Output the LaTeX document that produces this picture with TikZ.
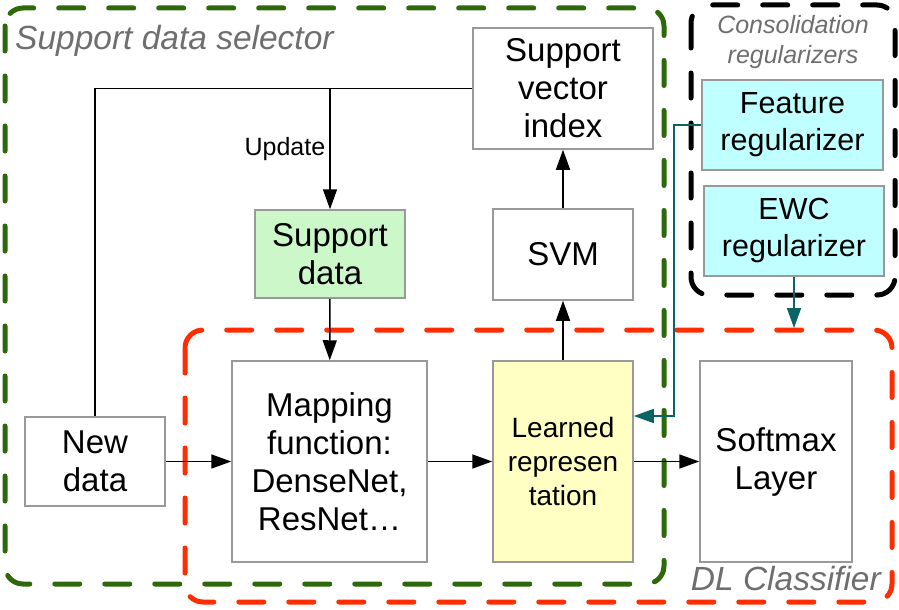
\documentclass[tikz,border=0pt]{standalone}
\usepackage{fontspec}
\setmainfont{Liberation Sans}
\usetikzlibrary{arrows.meta, positioning}
\definecolor{selgreen}{RGB}{45,104,10}
\definecolor{clsred}{RGB}{255,45,0}
\definecolor{fbteal}{RGB}{10,100,100}
\definecolor{boxgray}{RGB}{153,153,153}
\definecolor{labelgray}{RGB}{110,110,110}
\definecolor{sdgreen}{RGB}{204,247,200}
\definecolor{lryellow}{RGB}{255,255,196}
\definecolor{regcyan}{RGB}{192,255,255}

\tikzset{
  blk/.style={draw=boxgray, line width=1.5pt, align=center, inner sep=0pt,
    font=\fontsize{33}{38}\selectfont},
  conn/.style={line width=1.5pt, ->},
  fb/.style={line width=1.5pt, draw=fbteal, ->, >={Triangle[length=20pt,width=14pt,fill=fbteal]}},
  grp/.style={line width=5pt, dash pattern=on 25pt off 25pt, line cap=round, rounded corners=18pt},
  grplabel/.style={text=labelgray, inner sep=0pt, font=\fontsize{33.5}{38}\selectfont\itshape},
}

\begin{document}
\begin{tikzpicture}[x=1pt, y=-1pt, >={Triangle[length=20pt,width=14pt]}]
    \useasboundingbox (0,0) rectangle (899,610);

    % groups
    \draw[grp, selgreen] (5,8) rectangle (664,584);
    \draw[grp, clsred] (185,330) rectangle (892,602);
    \draw[grp, black] (691,5) rectangle (895,295);
    \node[grplabel, anchor=west] (sdslabel) at (15,41) {Support data selector};
    \node[grplabel, anchor=east] (dllabel) at (881,579) {DL Classifier};
    \node[grplabel, align=center, font=\fontsize{25}{30}\selectfont\itshape] (crlabel) at (793,42) {Consolidation\\regularizers};

    % blocks
    \node[blk, minimum width=180, minimum height=121] (svi) at (563,88.5) {Support\\vector\\index};
    \node[blk, minimum width=140, minimum height=91] (svm) at (563,254.5) {SVM};
    \node[blk, fill=sdgreen, minimum width=150, minimum height=88] (sd) at (330,254) {Support\\data};
    \node[blk, minimum width=140, minimum height=89] (nd) at (95,461.5) {New\\data};
    \node[blk, minimum width=195, minimum height=201] (map) at (329.5,461.5) {Mapping\\function:\\DenseNet,\\ResNet…};
    \node[blk, fill=lryellow, font=\fontsize{28}{34}\selectfont, minimum width=140, minimum height=201] (lr) at (563,461.5) {Learned\\represen\\tation};
    \node[blk, minimum width=152, minimum height=201] (sm) at (776,461.5) {Softmax\\Layer};
    \node[blk, fill=regcyan, font=\fontsize{30.5}{37}\selectfont, minimum width=181, minimum height=90] (fr) at (792.5,125) {Feature\\regularizer};
    \node[blk, fill=regcyan, font=\fontsize{30.5}{37}\selectfont, minimum width=180, minimum height=90] (ewc) at (794,231) {EWC\\regularizer};

    % connectors
    \draw[conn, -] (nd.north) |- (svi.west);
    \coordinate (upd) at (sd.north |- svi.west);
    \draw[conn] (upd) -- (sd.north) node[midway, left, inner sep=4pt, font=\fontsize{25}{28}\selectfont] (updlabel) {Update};
    \draw[conn] (sd) -- (map);
    \draw[conn] (nd) -- (map);
    \draw[conn] (map) -- (lr);
    \draw[conn] (lr) -- (sm);
    \draw[conn] (lr) -- (svm);
    \draw[conn] (svm) -- (svi);

    \coordinate (fbturn) at (674,416);
    \draw[fb] (fr.west) -| (fbturn) -- (fbturn -| lr.east);
    \coordinate (ewcend) at (794,328);
    \draw[fb] (ewc.south) -- (ewcend);
  \end{tikzpicture}
\end{document}
